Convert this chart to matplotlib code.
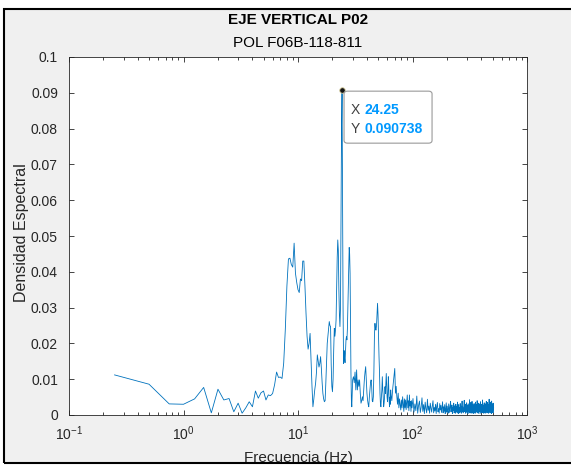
import numpy as np
import matplotlib
matplotlib.use('Agg')
import matplotlib.pyplot as plt
from matplotlib.patches import Rectangle, FancyBboxPatch

plt.rcParams['font.family'] = ['Liberation Sans', 'DejaVu Sans']
plt.rcParams['mathtext.fontset'] = 'custom'
plt.rcParams['mathtext.rm'] = 'Liberation Sans'
plt.rcParams['mathtext.it'] = 'Liberation Sans:italic'
plt.rcParams['mathtext.bf'] = 'Liberation Sans:bold'

titulo = 'EJE VERTICAL P02'
subtitulo = 'POL F06B-118-811'
xlab = 'Frecuencia (Hz)'
ylab = 'Densidad Espectral'

# espectro, hasta 100 Hz
freq_lo = [0.25, 0.5, 0.75, 1.0, 1.25, 1.5, 1.75, 2.0, 2.25, 2.5,
           2.75, 3.0, 3.25, 3.5, 3.75, 4.0, 4.25, 4.5, 4.75, 5.0,
           5.25, 5.5, 5.75, 6.0, 6.25, 6.5, 6.75, 7.0, 7.25, 7.5,
           7.75, 8.0, 8.25, 8.5, 8.75, 9.0, 9.25, 9.5, 9.75, 10.0,
           10.25, 10.5, 10.75, 11.0, 11.25, 11.5, 11.75, 12.0, 12.25, 12.5,
           12.75, 13.0, 13.25, 13.5, 13.75, 14.0, 14.25, 14.5, 14.75, 15.0,
           15.25, 15.5, 15.75, 16.0, 16.25, 16.5, 16.75, 17.0, 17.25, 17.5,
           17.75, 18.0, 18.25, 18.5, 18.75, 19.0, 19.25, 19.5, 19.75, 20.0,
           20.25, 20.5, 20.75, 21.0, 21.25, 21.5, 21.75, 22.0, 22.25, 22.5,
           22.75, 23.0, 23.25, 23.5, 23.75, 24.0, 24.25, 24.5, 24.75, 25.0,
           25.25, 25.5, 25.75, 26.0, 26.25, 26.5, 26.75, 27.0, 27.25, 27.5,
           27.75, 28.0, 28.25, 28.5, 28.75, 29.0, 29.25, 29.5, 29.75, 30.0,
           30.5, 31.0, 31.5, 32.0, 32.5, 33.0, 33.5, 34.0, 34.5, 35.0,
           35.5, 36.0, 36.5, 37.0, 37.5, 38.0, 38.5, 39.0, 39.5, 40.0,
           40.5, 41.0, 41.5, 42.0, 42.5, 43.0, 43.5, 44.0, 44.5, 45.0,
           45.5, 46.0, 46.5, 47.0, 47.5, 48.0, 48.5, 49.0, 49.5, 50.0,
           50.5, 51.0, 51.5, 52.0, 52.5, 53.0, 53.5, 54.0, 54.5, 55.0,
           55.5, 56.0, 56.5, 57.0, 57.5, 58.0, 58.5, 59.0, 59.5, 60.0,
           60.5, 61.0, 61.5, 62.0, 62.5, 63.0, 63.5, 64.0, 64.5, 65.0,
           66, 67, 68, 69, 70, 70.5, 71, 72, 73, 74,
           75, 76, 77, 78, 79, 80, 81, 82, 83, 84,
           85, 86, 87, 88, 89, 90, 91, 92, 93, 94,
           95, 96, 97, 98, 99]
dens_lo = [0.0112, 0.0086, 0.0031, 0.0030, 0.0045, 0.0077, 0.0006, 0.0072, 0.0042, 0.0046,
           0.0009, 0.0033, 0.0005, 0.0020, 0.0037, 0.0023, 0.0067, 0.0047, 0.0062, 0.0067,
           0.0042, 0.0056, 0.0054, 0.0060, 0.0085, 0.0120, 0.0105, 0.0106, 0.0102, 0.0145,
           0.0240, 0.0360, 0.0436, 0.0438, 0.0420, 0.0413, 0.0480, 0.0396, 0.0370, 0.0350,
           0.0342, 0.0380, 0.0375, 0.0430, 0.0430, 0.0360, 0.0284, 0.0220, 0.0184, 0.0200,
           0.0228, 0.0150, 0.0080, 0.0023, 0.0045, 0.0070, 0.0089, 0.0120, 0.0168, 0.0150,
           0.0134, 0.0144, 0.0163, 0.0130, 0.0090, 0.0060, 0.0045, 0.0037, 0.0040, 0.0090,
           0.0150, 0.0200, 0.0220, 0.0240, 0.0261, 0.0250, 0.0247, 0.0140, 0.0080, 0.0065,
           0.0100, 0.0180, 0.0242, 0.0220, 0.0237, 0.0265, 0.0350, 0.0440, 0.0489, 0.0460,
           0.0350, 0.0280, 0.0247, 0.0300, 0.0550, 0.0800, 0.090738, 0.0600, 0.0300, 0.0144,
           0.0180, 0.0160, 0.0146, 0.0180, 0.0210, 0.0219, 0.0210, 0.0240, 0.0300, 0.0360,
           0.0420, 0.0468, 0.0450, 0.0396, 0.0250, 0.0120, 0.0042, 0.0023, 0.0060, 0.0098,
           0.0107, 0.0090, 0.0120, 0.0070, 0.0126, 0.0070, 0.0098, 0.0080, 0.0098, 0.0060,
           0.0033, 0.0040, 0.0051, 0.0040, 0.0070, 0.0100, 0.0120, 0.0135, 0.0100, 0.0061,
           0.0042, 0.0030, 0.0023, 0.0050, 0.0070, 0.0090, 0.0098, 0.0080, 0.0040, 0.0037,
           0.0051, 0.0120, 0.0220, 0.0256, 0.0240, 0.0237, 0.0250, 0.0280, 0.0312, 0.0280,
           0.0220, 0.0163, 0.0120, 0.0061, 0.0030, 0.0023, 0.0050, 0.0070, 0.0107, 0.0070,
           0.0050, 0.0023, 0.0033, 0.0050, 0.0079, 0.0060, 0.0090, 0.0116, 0.0080, 0.0050,
           0.0037, 0.0060, 0.0107, 0.0080, 0.0040, 0.0023, 0.0050, 0.0030, 0.0070, 0.0055,
           0.0040, 0.0070, 0.0090, 0.0110, 0.0130, 0.0100, 0.0061, 0.0080, 0.0051, 0.0030,
           0.0061, 0.0020, 0.0045, 0.0030, 0.0014, 0.0042, 0.0020, 0.0051, 0.0030, 0.0010,
           0.0045, 0.0020, 0.0042, 0.0015, 0.0035, 0.0056, 0.0020, 0.0040, 0.0012, 0.0056,
           0.0025, 0.0038, 0.0010, 0.0040, 0.0020]

# banda de ruido 101-511 Hz, cada 2 Hz
dens_hf = [0.0046, 0.0008, 0.0031, 0.0012, 0.0053, 0.0005, 0.0027, 0.0039, 0.0007, 0.0022,
           0.0048, 0.0010, 0.0029, 0.0004, 0.0036, 0.0017, 0.0006, 0.0044, 0.0013, 0.0025,
           0.0005, 0.0033, 0.0019, 0.0008, 0.0026, 0.0040, 0.0006, 0.0021, 0.0011, 0.0030,
           0.0004, 0.0024, 0.0035, 0.0009, 0.0018, 0.0005, 0.0032, 0.0014, 0.0027, 0.0007,
           0.0020, 0.0037, 0.0006, 0.0023, 0.0010, 0.0029, 0.0004, 0.0016, 0.0034, 0.0008,
           0.0025, 0.0012, 0.0005, 0.0031, 0.0019, 0.0007, 0.0026, 0.0038, 0.0009, 0.0015,
           0.0028, 0.0004, 0.0022, 0.0013, 0.0033, 0.0006, 0.0018, 0.0026, 0.0005, 0.0030,
           0.0011, 0.0024, 0.0007, 0.0036, 0.0016, 0.0004, 0.0029, 0.0012, 0.0021, 0.0006,
           0.0032, 0.0010, 0.0025, 0.0005, 0.0019, 0.0039, 0.0008, 0.0023, 0.0014, 0.0006,
           0.0027, 0.0041, 0.0009, 0.0017, 0.0030, 0.0005, 0.0022, 0.0011, 0.0034, 0.0007,
           0.0015, 0.0028, 0.0004, 0.0031, 0.0018, 0.0009, 0.0026, 0.0043, 0.0006, 0.0020,
           0.0012, 0.0035, 0.0005, 0.0024, 0.0010, 0.0038, 0.0007, 0.0019, 0.0029, 0.0004,
           0.0023, 0.0013, 0.0032, 0.0006, 0.0027, 0.0016, 0.0005, 0.0036, 0.0011, 0.0021,
           0.0008, 0.0029, 0.0014, 0.0040, 0.0006, 0.0022, 0.0010, 0.0033, 0.0005, 0.0018,
           0.0026, 0.0009, 0.0031, 0.0015, 0.0004, 0.0024, 0.0037, 0.0008, 0.0020, 0.0012,
           0.0030, 0.0006, 0.0025, 0.0017, 0.0042, 0.0007, 0.0019, 0.0028, 0.0005, 0.0022,
           0.0011, 0.0034, 0.0008, 0.0026, 0.0013, 0.0005, 0.0031, 0.0016, 0.0024, 0.0009,
           0.0038, 0.0010, 0.0020, 0.0006, 0.0029, 0.0014, 0.0035, 0.0007, 0.0023, 0.0012,
           0.0005, 0.0030, 0.0018, 0.0044, 0.0008, 0.0025, 0.0011, 0.0032, 0.0006, 0.0021,
           0.0015, 0.0036, 0.0009, 0.0027, 0.0004, 0.0039, 0.0013, 0.0022, 0.0007, 0.0031,
           0.0010, 0.0024, 0.0006, 0.0033, 0.0016, 0.0020]
freq_hf = 101 + 2 * np.arange(len(dens_hf))

pico_f = 24.25
pico_d = 0.090738

yticks = [0, 0.01, 0.02, 0.03, 0.04, 0.05, 0.06, 0.07, 0.08, 0.09, 0.1]
yticklabels = ['0', '0.01', '0.02', '0.03', '0.04', '0.05', '0.06', '0.07', '0.08', '0.09', '0.1']
xticks = [0.1, 1, 10, 100, 1000]
xticklabels = ['$10^{\\mathrm{-}1}$', '$10^{0}$', '$10^{1}$', '$10^{2}$', '$10^{3}$']

freq = np.concatenate([freq_lo, freq_hf])
dens = np.concatenate([dens_lo, dens_hf])

W, H = 571, 466
fig = plt.figure(figsize=(W / 100, H / 100), dpi=100)
fig.patch.set_facecolor('white')

# fondo gris
fig.patches.append(Rectangle((4 / W, 3 / H), 1.2, 454 / H, transform=fig.transFigure,
                             facecolor='#f0f0f0', edgecolor='none', zorder=-5))

ax = fig.add_axes([69 / W, 1 - 415 / H, 458 / W, 358 / H])
ax.set_zorder(1)
ax.set_facecolor('white')
ax.plot(freq, dens, color='#0072BD', lw=0.6)
ax.set_xscale('log')
ax.set_xlim(0.1, 1000)
ax.set_ylim(0, 0.1)
ax.set_xticks(xticks)
ax.set_xticklabels(xticklabels)
ax.set_yticks(yticks)
ax.set_yticklabels(yticklabels)

gris = '#262626'
for s in ax.spines.values():
    s.set_color(gris)
    s.set_linewidth(0.6)
ax.tick_params(which='both', direction='in', top=True, right=True, colors=gris, labelsize=10,
               width=0.6)
ax.tick_params(which='major', length=3.5)
ax.tick_params(which='minor', length=2)
ax.tick_params(axis='y', pad=8)
ax.tick_params(axis='x', pad=7)

# data tip
ax.plot([pico_f], [pico_d], 'o', ms=4, mfc='#151515', mec='#d8d0a0', mew=0.6, zorder=5)
fig.canvas.draw()
px, py = ax.transData.transform((pico_f, pico_d))
bx, by = px + 2, py - 1 - 52
fig.patches.append(FancyBboxPatch((bx / W, by / H), 88 / W, 52 / H,
                                  boxstyle='round,pad=0,rounding_size=0.006',
                                  transform=fig.transFigure, facecolor='white',
                                  edgecolor='#9a9a9a', lw=0.8, zorder=10))
fig.text((px + 9) / W, (py - 20) / H, 'X', color='#404040', fontsize=10, va='center', zorder=11)
fig.text((px + 22) / W, (py - 20) / H, '24.25', color='#0099FF', fontsize=10,
         weight='bold', va='center', zorder=11)
fig.text((px + 9) / W, (py - 39) / H, 'Y', color='#404040', fontsize=10, va='center', zorder=11)
fig.text((px + 22) / W, (py - 39) / H, '0.090738', color='#0099FF', fontsize=10,
         weight='bold', va='center', zorder=11)

fig.text(298 / W, 1 - 20 / H, titulo, ha='center', va='center', fontsize=11,
         weight='bold', color='black')
fig.text(298 / W, 1 - 43 / H, subtitulo, ha='center', va='center', fontsize=11,
         color='black')
fig.text(22 / W, 1 - 233 / H, ylab, ha='center', va='center', rotation=90,
         fontsize=11.5, color=gris)
fig.text(298 / W, 1 - 462 / H, xlab, ha='center', va='baseline', fontsize=11, color=gris)

# borde encima de todo
fig.patches.append(Rectangle((0, 0), 1, 3 / H, transform=fig.transFigure,
                             facecolor='white', edgecolor='none', zorder=20))
fig.patches.append(Rectangle((4 / W, 3 / H), 1.2, 454 / H, transform=fig.transFigure,
                             facecolor='none', edgecolor='black', lw=1.5, zorder=21))

fig.savefig('out.png', dpi=100)
